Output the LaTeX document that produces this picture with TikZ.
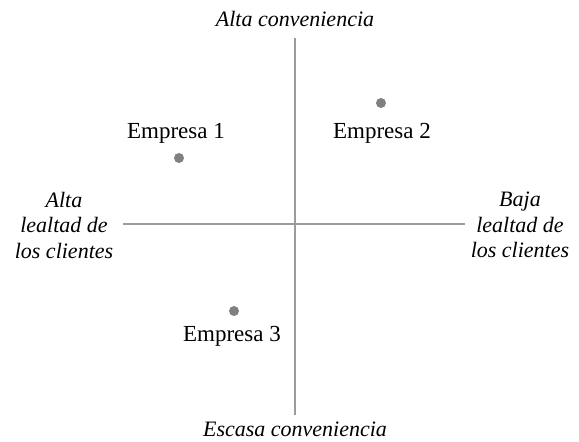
\documentclass[tikz,border=0pt]{standalone}
\usepackage{fontspec}
\setmainfont{Liberation Serif}
\definecolor{axisgray}{RGB}{155,155,155}
\definecolor{dotgray}{RGB}{128,128,128}
\begin{document}
\begin{tikzpicture}[x=1pt,y=1pt,
  lbl/.style={font=\fontsize{22}{25.5}\selectfont\itshape, align=center, inner sep=0pt},
  firm/.style={font=\fontsize{23}{26}\selectfont, inner sep=0pt},
  dotmark/.style={circle, fill=dotgray, minimum size=10pt, inner sep=0pt},
  axis/.style={draw=axisgray, line width=1.6pt}]
\useasboundingbox (0,0) rectangle (579,442);
\coordinate (top) at (295,404);
\coordinate (bot) at (295,27);
\coordinate (lft) at (123,218);
\coordinate (rgt) at (465,218);
\draw[axis] (top) -- (bot);
\draw[axis] (lft) -- (rgt);
\node[lbl] (tl) at (295,423) {Alta conveniencia};
\node[lbl] (bl) at (295,13) {Escasa conveniencia};
\node[lbl] (ll) at (64,217) {Alta\\lealtad de\\los clientes};
\node[lbl] (rl) at (520,217) {Baja\\lealtad de\\los clientes};
\node[dotmark] (d1) at (179,284) {};
\node[firm] (e1) at (176,309) {Empresa 1};
\node[dotmark] (d2) at (381,339) {};
\node[firm] (e2) at (382,309) {Empresa 2};
\node[dotmark] (d3) at (234,131) {};
\node[firm] (e3) at (232,106) {Empresa 3};
\end{tikzpicture}
\end{document}
